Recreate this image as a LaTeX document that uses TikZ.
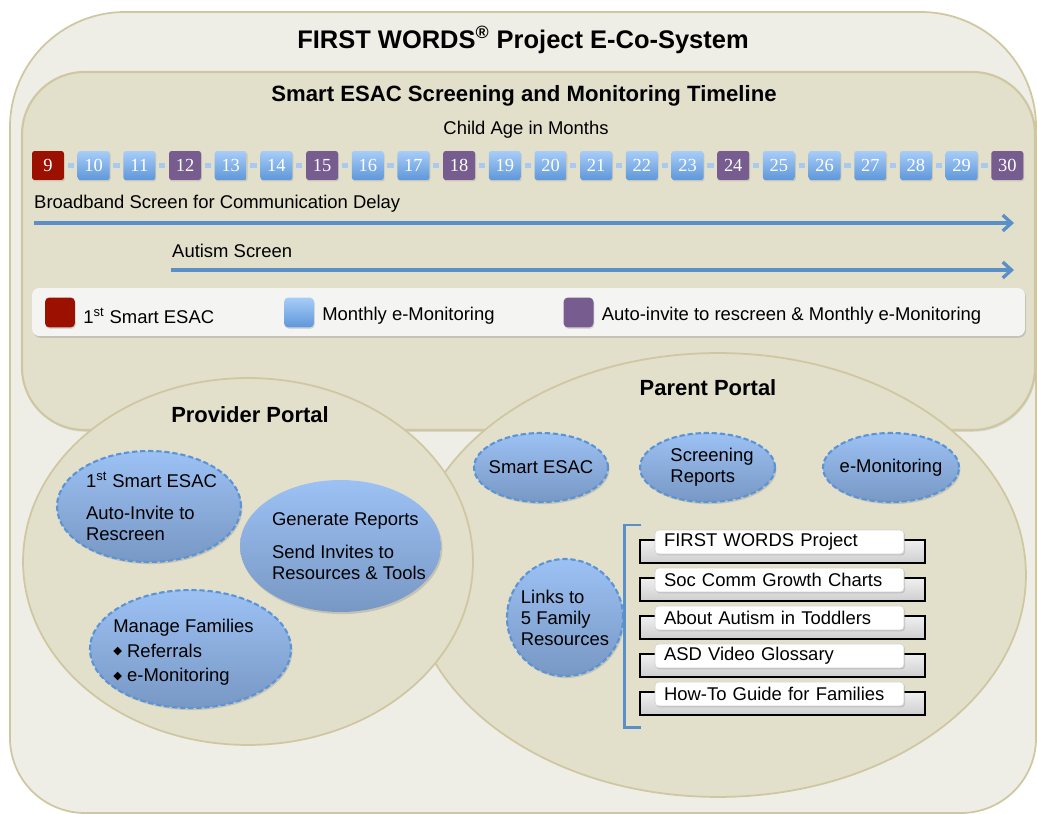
\documentclass[tikz,border=0pt]{standalone}
\usepackage{fontspec}
\setmainfont{Liberation Sans}
\newfontfamily\monthfont{Liberation Serif}
\newfontfamily\bulletfont{DejaVu Sans}
\usepackage{xcolor}
\usepackage{tikz}
\usetikzlibrary{shapes.geometric, arrows.meta, positioning, shadows}

\definecolor{outerfill}{HTML}{EFEEE6}
\definecolor{tanline}{HTML}{CFC7A2}
\definecolor{panelfill}{HTML}{E2DFCB}
\definecolor{esacred}{HTML}{9B1000}
\definecolor{monthtop}{HTML}{A7CDF8}
\definecolor{monthbot}{HTML}{5F97DA}
\definecolor{invitepurple}{HTML}{765C8F}
\definecolor{arrowblue}{HTML}{5B8FC8}
\definecolor{linkblue}{HTML}{A9C9EE}
\definecolor{bubbletop}{HTML}{9CC1F4}
\definecolor{bubblebot}{HTML}{7898C4}
\definecolor{dashblue}{HTML}{5A94D6}
\definecolor{legendfill}{HTML}{F4F4F2}

\newcommand{\famdot}{\raisebox{1.6pt}{\bulletfont\fontsize{6.5}{6.5}\selectfont ◆}}

\tikzstyle{ecosystem} = [draw=tanline, line width=1pt, fill=outerfill]
\tikzstyle{panel} = [draw=tanline, line width=1.2pt, fill=panelfill, rounded corners=1.25cm, drop shadow={opacity=0.2, shadow xshift=0.6pt, shadow yshift=-1pt}]
\tikzstyle{portal} = [ellipse, draw=tanline, line width=1pt, fill=panelfill]
\tikzstyle{portaltitle} = [font=\bfseries\fontsize{12.5}{15}\selectfont]
\tikzstyle{monthbase} = [rectangle, rounded corners=1.5pt, minimum width=0.64cm, minimum height=0.58cm, inner sep=0pt, text=white, font=\monthfont\fontsize{10.5}{12}\selectfont, drop shadow={opacity=0.25, shadow xshift=0.5pt, shadow yshift=-0.8pt}, node distance=0.9138cm]
\tikzstyle{month} = [monthbase, top color=monthtop, bottom color=monthbot]
\tikzstyle{firstmonth} = [monthbase, fill=esacred]
\tikzstyle{invitemonth} = [monthbase, fill=invitepurple]
\tikzstyle{monthlink} = [draw=linkblue, line width=2.4pt, shorten >=1.9pt, shorten <=1.9pt]
\tikzstyle{timearrow} = [draw=arrowblue, line width=1.9pt, -{Straight Barb[length=5pt, width=9pt]}]
\tikzstyle{legendbox} = [rectangle, rounded corners=4pt, fill=legendfill, minimum width=19.86cm, minimum height=0.96cm, drop shadow={opacity=0.3, shadow xshift=0.6pt, shadow yshift=-1pt}]
\tikzstyle{swatch} = [rectangle, rounded corners=2.5pt, minimum width=0.6cm, minimum height=0.6cm, inner sep=0pt, drop shadow={opacity=0.25, shadow xshift=0.5pt, shadow yshift=-0.8pt}]
\tikzstyle{keytext} = [right=1pt of #1, yshift=-2pt]
\tikzstyle{bubble} = [ellipse, inner sep=0pt, top color=bubbletop, bottom color=bubblebot, drop shadow={opacity=0.3, shadow xshift=0.8pt, shadow yshift=-1.2pt}]
\tikzstyle{dashbubble} = [bubble, draw=dashblue, line width=1.2pt, dash pattern=on 3pt off 1.6pt]
\tikzstyle{bubbletext} = [align=left, font=\fontsize{10.5}{12}\selectfont]
\tikzstyle{resback} = [rectangle, draw=black, line width=1.1pt, top color=gray!12, bottom color=gray!38, minimum width=5.7cm, minimum height=0.46cm, node distance=0.76cm]
\tikzstyle{resitem} = [rectangle, rounded corners=2pt, draw=gray!35, fill=white, minimum height=0.48cm, text width=4.62cm, inner xsep=0.18cm, inner ysep=0pt, align=left, node distance=0.76cm, drop shadow={opacity=0.3, shadow xshift=0.6pt, shadow yshift=-0.8pt}]
\tikzstyle{bracket} = [draw=arrowblue, line width=1.7pt]

\begin{document}
\begin{tikzpicture}[x=0.02cm, y=-0.02cm, font=\fontsize{10.5}{12.6}\selectfont]
\useasboundingbox (0,0) rectangle (1037,814);

% frames
\draw [ecosystem] (10,420) [rounded corners=2.3cm] -- (10,12) -- (1036,12) -- (1036,420) [rounded corners=1.5cm] -- (1036,813) -- (10,813) -- (10,420);
\draw [panel] (22,72) rectangle (1035,430);

\node (title) [font=\bfseries\fontsize{14.5}{17}\selectfont] at (523,40) {FIRST WORDS\textsuperscript{®} Project E-Co-System};
\node (timeline) [font=\bfseries\fontsize{12.6}{15}\selectfont] at (524,96) {Smart ESAC Screening and Monitoring Timeline};
\node (age) at (526,130) {Child Age in Months};

% months
\node (m9) [firstmonth] at (48,165.5) {9};
\node (m10) [month, right of=m9] {10};
\node (m11) [month, right of=m10] {11};
\node (m12) [invitemonth, right of=m11] {12};
\node (m13) [month, right of=m12] {13};
\node (m14) [month, right of=m13] {14};
\node (m15) [invitemonth, right of=m14] {15};
\node (m16) [month, right of=m15] {16};
\node (m17) [month, right of=m16] {17};
\node (m18) [invitemonth, right of=m17] {18};
\node (m19) [month, right of=m18] {19};
\node (m20) [month, right of=m19] {20};
\node (m21) [month, right of=m20] {21};
\node (m22) [month, right of=m21] {22};
\node (m23) [month, right of=m22] {23};
\node (m24) [invitemonth, right of=m23] {24};
\node (m25) [month, right of=m24] {25};
\node (m26) [month, right of=m25] {26};
\node (m27) [month, right of=m26] {27};
\node (m28) [month, right of=m27] {28};
\node (m29) [month, right of=m28] {29};
\node (m30) [invitemonth, right of=m29] {30};

\foreach \i [evaluate=\i as \j using int(\i+1)] in {9,...,29}
	\draw [monthlink] (m\i) -- (m\j);

% screens
\node (broadband) [anchor=west] at (28,204) {Broadband Screen for Communication Delay};
\coordinate (bbstart) at (34,223);
\coordinate (bbend) at (1014,223);
\draw [timearrow] (bbstart) -- (bbend);

\node (autism) [anchor=west] at (166,251) {Autism Screen};
\coordinate (asstart) at (171,270);
\coordinate (asend) at (1014,270);
\draw [timearrow] (asstart) -- (asend);

% legend
\node (legend) [legendbox] at (528.5,312) {};
\node (keyfirst) [swatch, fill=esacred] at (60,312.5) {};
\node (keyfirsttext) [keytext=keyfirst] {1\textsuperscript{st} Smart ESAC};
\node (keymonth) [swatch, top color=monthtop, bottom color=monthbot] at (299,312.5) {};
\node (keymonthtext) [keytext=keymonth] {Monthly e-Monitoring};
\node (keyinvite) [swatch, fill=invitepurple] at (578.5,312.5) {};
\node (keyinvitetext) [keytext=keyinvite] {Auto-invite to rescreen \& Monthly e-Monitoring};

% portals
\node (parent) [portal, minimum width=12.32cm, minimum height=8.88cm] at (718,575) {};
\node (provider) [portal, minimum width=9cm, minimum height=7.34cm] at (248,561.5) {};
\node (parenttitle) [portaltitle] at (708,388) {Parent Portal};
\node (providertitle) [portaltitle] at (250,415) {Provider Portal};

% provider portal
\node (firstesac) [dashbubble, minimum width=3.68cm, minimum height=2.22cm,
	label={[bubbletext, xshift=0.05cm]center:{1\textsuperscript{st} Smart ESAC\\[6.5pt]Auto-Invite to\\Rescreen}}] at (149,506.5) {};
\node (reports) [bubble, minimum width=4.02cm, minimum height=2.64cm,
	label={[bubbletext, xshift=0.17cm]center:{Generate Reports\\[6.5pt]Send Invites to\\Resources \& Tools}}] at (340.5,546) {};
\node (families) [dashbubble, minimum width=4.02cm, minimum height=2.36cm,
	label={[bubbletext, xshift=-0.14cm, yshift=-2pt]center:{Manage Families\\[2pt]\famdot\ Referrals\\[2pt]\famdot\ e-Monitoring}}] at (190.5,649) {};

% parent portal
\node (smartesac) [dashbubble, minimum width=2.68cm, minimum height=1.38cm,
	label={[bubbletext]center:Smart ESAC}] at (541,467.5) {};
\node (screening) [dashbubble, minimum width=2.7cm, minimum height=1.38cm,
	label={[bubbletext, xshift=0.09cm]center:{Screening\\Reports}}] at (707.5,467.5) {};
\node (emonitor) [dashbubble, minimum width=2.72cm, minimum height=1.38cm,
	label={[bubbletext]center:e-Monitoring}] at (891,467.5) {};
\node (links) [dashbubble, minimum width=2.32cm, minimum height=2.34cm,
	label={[bubbletext]center:{Links to\\5 Family\\Resources}}] at (565,617.5) {};

\draw [bracket] (641,525) -- (624,525) -- (624,727) -- (641,727);

\node (back1) [resback] at (782.5,551.5) {};
\node (back2) [resback, below of=back1] {};
\node (back3) [resback, below of=back2] {};
\node (back4) [resback, below of=back3] {};
\node (back5) [resback, below of=back4] {};

\node (res1) [resitem] at (779.5,542) {FIRST WORDS Project};
\node (res2) [resitem, below of=res1] {Soc Comm Growth Charts};
\node (res3) [resitem, below of=res2] {About Autism in Toddlers};
\node (res4) [resitem, below of=res3] {ASD Video Glossary};
\node (res5) [resitem, below of=res4] {How-To Guide for Families};

\end{tikzpicture}
\end{document}
